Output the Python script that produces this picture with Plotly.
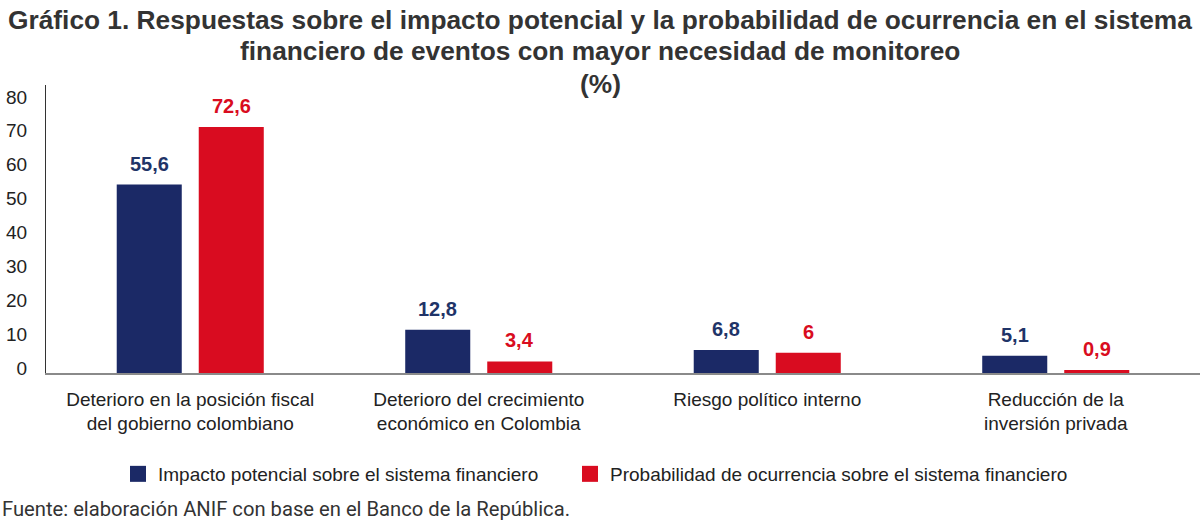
import plotly.graph_objects as go

categories = [
    "Deterioro en la posición fiscal<br>del gobierno colombiano",
    "Deterioro del crecimiento<br>económico en Colombia",
    "Riesgo político interno",
    "Reducción de la<br>inversión privada",
]
impacto = [55.6, 12.8, 6.8, 5.1]
probabilidad = [72.6, 3.4, 6, 0.9]
series_names = [
    "Impacto potencial sobre el sistema financiero",
    "Probabilidad de ocurrencia sobre el sistema financiero",
]
y_ticks = [0, 10, 20, 30, 40, 50, 60, 70, 80]

BLUE = "#1B2966"
RED = "#D90C20"
FONT = "Liberation Sans, Arial, sans-serif"

fig = go.Figure()
series = [
    (impacto, series_names[0], BLUE, "#1F3468", -41),
    (probabilidad, series_names[1], RED, RED, 41),
]
for vals, name, color, tcolor, dx in series:
    fig.add_trace(go.Bar(
        x=categories, y=vals, name=name, showlegend=False,
        marker=dict(color=color, line=dict(width=0)),
    ))
    for cat, v in zip(categories, vals):
        fig.add_annotation(
            x=cat, y=v, xref="x", yref="y", text=f"{v:g}".replace(".", ","),
            showarrow=False, xanchor="center", yanchor="bottom",
            xshift=dx, yshift=8,
            font=dict(family=FONT, size=20, color=tcolor, weight="bold"),
        )
# legend entries with square swatches, one legend box each
for name, color, lg in [(series_names[0], BLUE, "legend"), (series_names[1], RED, "legend2")]:
    fig.add_trace(go.Scatter(
        x=[None], y=[None], mode="markers", name=name,
        marker=dict(symbol="square", size=18, color=color),
        showlegend=True, legend=lg,
    ))

legend_common = dict(
    orientation="h", xref="container", yref="container",
    xanchor="left", y=1 - 474 / 523, yanchor="middle",
    font=dict(family=FONT, size=19, color="#222222"),
    itemwidth=30, itemsizing="trace", bgcolor="rgba(0,0,0,0)",
)

fig.update_layout(
    width=1200, height=523,
    paper_bgcolor="white", plot_bgcolor="white",
    margin=dict(l=46, r=0, t=85, b=150, autoexpand=False),
    barmode="group", bargap=0.4315, bargroupgap=0.207,
    font=dict(family=FONT, size=18, color="#222222"),
    showlegend=True,
    legend=dict(x=118 / 1200, **legend_common),
    legend2=dict(x=570 / 1200, **legend_common),
    xaxis=dict(
        showline=True, linecolor="#8a8a8a", linewidth=1.5,
        ticks="", showgrid=False, automargin=False,
        ticklabelstandoff=8,
        tickfont=dict(family=FONT, size=19, color="#222222"),
    ),
    yaxis=dict(
        range=[0, 85], tickvals=y_ticks, showgrid=False, zeroline=False,
        showline=True, linecolor="#333333", linewidth=1, automargin=False,
        ticks="", ticklabelstandoff=14, ticklabelshift=-5,
        tickfont=dict(family=FONT, size=19, color="#222222"),
    ),
)

title_lines = [
    "Gráfico 1. Respuestas sobre el impacto potencial y la probabilidad de ocurrencia en el sistema",
    "financiero de eventos con mayor necesidad de monitoreo",
    "(%)",
]
title_y = [20, 51, 84]
for txt, yy in zip(title_lines, title_y):
    fig.add_annotation(
        text=txt, xref="paper", yref="paper", showarrow=False,
        x=(600 - 46) / 1154, xanchor="center",
        y=1 + (85 - yy) / 288, yanchor="middle",
        font=dict(family=FONT, size=26.3, color="#333333", weight="bold"),
    )

fig.add_annotation(
    text="Fuente: elaboración ANIF con base en el Banco de la República.",
    xref="paper", yref="paper", showarrow=False,
    x=-46 / 1154, xanchor="left",
    y=-(509 - 373) / 288, yanchor="middle",
    font=dict(family="Roboto, sans-serif", size=20.2, color="#333333"),
)

fig.write_html(
    "out.html",
    config={"displayModeBar": False},
    post_script="document.body.style.margin='0px';",
)
